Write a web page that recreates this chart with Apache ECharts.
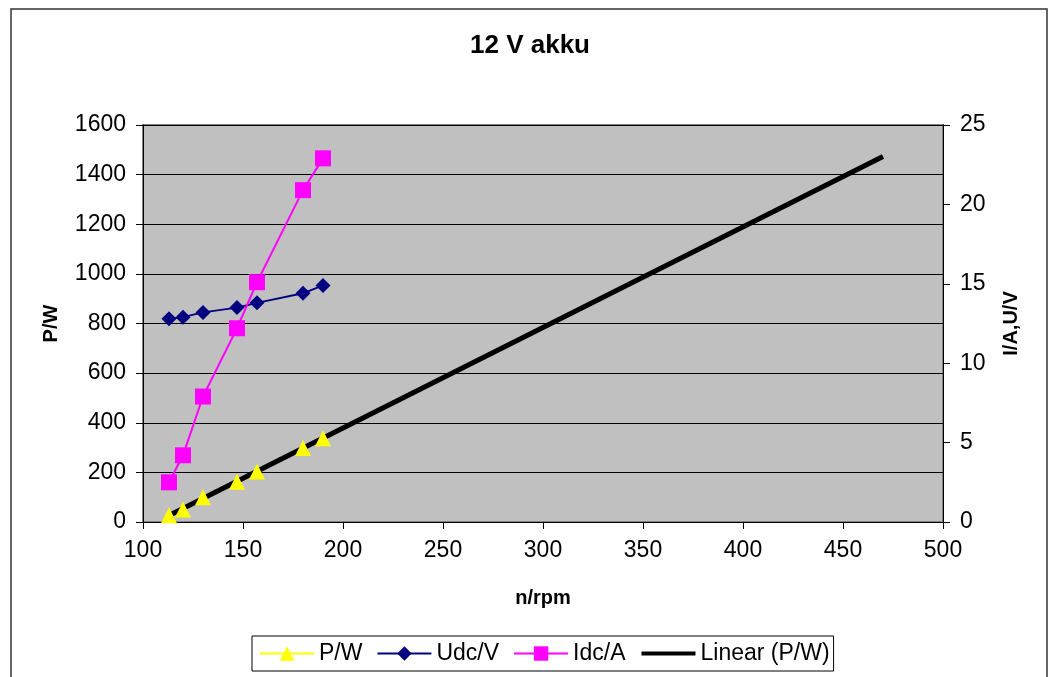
<!DOCTYPE html>
<html>
<head>
<meta charset="utf-8">
<title>12 V akku</title>
<script src="https://cdn.jsdelivr.net/npm/echarts@6/dist/echarts.min.js"></script>
<style>
  html, body { margin: 0; padding: 0; background: #fff; }
  #mychart { width: 1048px; height: 677px; }
</style>
</head>
<body>
<div id="mychart"></div>
<script>
// values
var rpm = [113, 120, 130, 147, 157, 180, 190];
var powerW = [27, 50, 100, 162, 204, 298, 338];
var udcV = [12.8, 12.9, 13.2, 13.5, 13.8, 14.4, 14.9];
var idcA = [2.5, 4.2, 7.9, 12.2, 15.1, 20.9, 22.9];
var trendForward = 280; // excel trendline forecast forward (rpm)

function pairs(xs, ys) {
  return xs.map(function (x, i) { return [x, ys[i]]; });
}

// least squares line through P/W, like excel's linear trendline
function linearTrend(xs, ys, forward) {
  var n = xs.length, mx = 0, my = 0, sxy = 0, sxx = 0;
  for (var i = 0; i < n; i++) { mx += xs[i]; my += ys[i]; }
  mx /= n; my /= n;
  for (var j = 0; j < n; j++) {
    sxy += (xs[j] - mx) * (ys[j] - my);
    sxx += (xs[j] - mx) * (xs[j] - mx);
  }
  var k = sxy / sxx, b = my - k * mx;
  var x0 = Math.min.apply(null, xs), x1 = Math.max.apply(null, xs) + forward;
  return [[x0, k * x0 + b], [x1, k * x1 + b]];
}

var font = '"Liberation Sans", Arial, sans-serif';
var plain = function (v) { return String(v); };
var mychart = echarts.init(document.getElementById('mychart'));

var option = {
  animation: false,
  textStyle: { fontFamily: font, color: '#000' },
  title: {
    text: '12 V akku',
    left: 470,
    top: 33,
    padding: 0,
    textStyle: { fontFamily: font, fontSize: 26, fontWeight: 'bold', color: '#000' }
  },
  graphic: [{
    type: 'rect',
    shape: { x: 11, y: 9, width: 1036, height: 700 },
    style: { fill: 'none', stroke: '#333', lineWidth: 1.5 },
    silent: true
  }],
  legend: {
    left: 252,
    top: 636,
    padding: [6, 4, 6, 7],
    itemGap: 14,
    itemWidth: 54,
    itemHeight: 18,
    backgroundColor: '#fff',
    borderColor: '#000',
    borderWidth: 1,
    borderRadius: 0,
    textStyle: { fontFamily: font, fontSize: 23, color: '#000' },
    data: [
      { name: 'P/W', lineStyle: { width: 2 } },
      { name: 'Udc/V', lineStyle: { width: 2 } },
      { name: 'Idc/A', lineStyle: { width: 2 } },
      { name: 'Linear (P/W)', itemStyle: { opacity: 0 }, lineStyle: { width: 4 } }
    ]
  },
  grid: {
    left: 143,
    right: 105,
    top: 125,
    bottom: 155,
    show: true,
    backgroundColor: '#C0C0C0',
    borderColor: '#808080',
    borderWidth: 2
  },
  xAxis: {
    type: 'value',
    min: 100,
    max: 500,
    interval: 50,
    name: 'n/rpm',
    nameLocation: 'middle',
    nameGap: 66,
    nameTextStyle: { fontFamily: font, fontSize: 20, fontWeight: 'bold', color: '#000' },
    axisLine: { onZero: false, lineStyle: { color: '#000', width: 1 } },
    axisTick: { show: true, inside: false, length: 7, lineStyle: { color: '#000' } },
    axisLabel: { margin: 17, fontSize: 23, color: '#000', fontFamily: font, formatter: plain },
    splitLine: { show: false }
  },
  yAxis: [{
    type: 'value',
    min: 0,
    max: 1600,
    interval: 200,
    position: 'left',
    name: 'P/W',
    nameLocation: 'middle',
    nameGap: 82,
    nameRotate: 90,
    nameTextStyle: { fontFamily: font, fontSize: 20, fontWeight: 'bold', color: '#000' },
    axisLine: { show: true, lineStyle: { color: '#000', width: 1 } },
    axisTick: { show: true, length: 7, lineStyle: { color: '#000' } },
    axisLabel: { margin: 17, fontSize: 23, color: '#000', fontFamily: font, formatter: plain },
    splitLine: { show: true, lineStyle: { color: '#000', width: 1 } }
  }, {
    type: 'value',
    min: 0,
    max: 25,
    interval: 5,
    position: 'right',
    name: 'I/A,U/V',
    nameLocation: 'middle',
    nameGap: 58,
    nameRotate: 90,
    nameTextStyle: { fontFamily: font, fontSize: 20, fontWeight: 'bold', color: '#000' },
    axisLine: { show: true, lineStyle: { color: '#000', width: 1 } },
    axisTick: { show: true, length: 7, lineStyle: { color: '#000' } },
    axisLabel: { margin: 17, fontSize: 23, color: '#000', fontFamily: font, formatter: plain },
    splitLine: { show: false }
  }],
  series: [{
    name: 'P/W',
    type: 'line',
    yAxisIndex: 0,
    data: pairs(rpm, powerW),
    symbol: 'triangle',
    symbolSize: 16,
    lineStyle: { color: '#FFFF00', width: 2 },
    itemStyle: { color: '#FFFF00', borderWidth: 0 }
  }, {
    name: 'Udc/V',
    type: 'line',
    yAxisIndex: 1,
    data: pairs(rpm, udcV),
    symbol: 'diamond',
    symbolSize: 15,
    lineStyle: { color: '#000080', width: 2 },
    itemStyle: { color: '#000080', borderWidth: 0 }
  }, {
    name: 'Idc/A',
    type: 'line',
    yAxisIndex: 1,
    data: pairs(rpm, idcA),
    symbol: 'rect',
    symbolSize: 16,
    lineStyle: { color: '#FF00FF', width: 2 },
    itemStyle: { color: '#FF00FF', borderWidth: 0 }
  }, {
    name: 'Linear (P/W)',
    type: 'line',
    yAxisIndex: 0,
    data: linearTrend(rpm, powerW, trendForward),
    symbol: 'none',
    lineStyle: { color: '#000', width: 5 },
    itemStyle: { color: '#000' }
  }]
};
mychart.setOption(option);
</script>
</body>
</html>
